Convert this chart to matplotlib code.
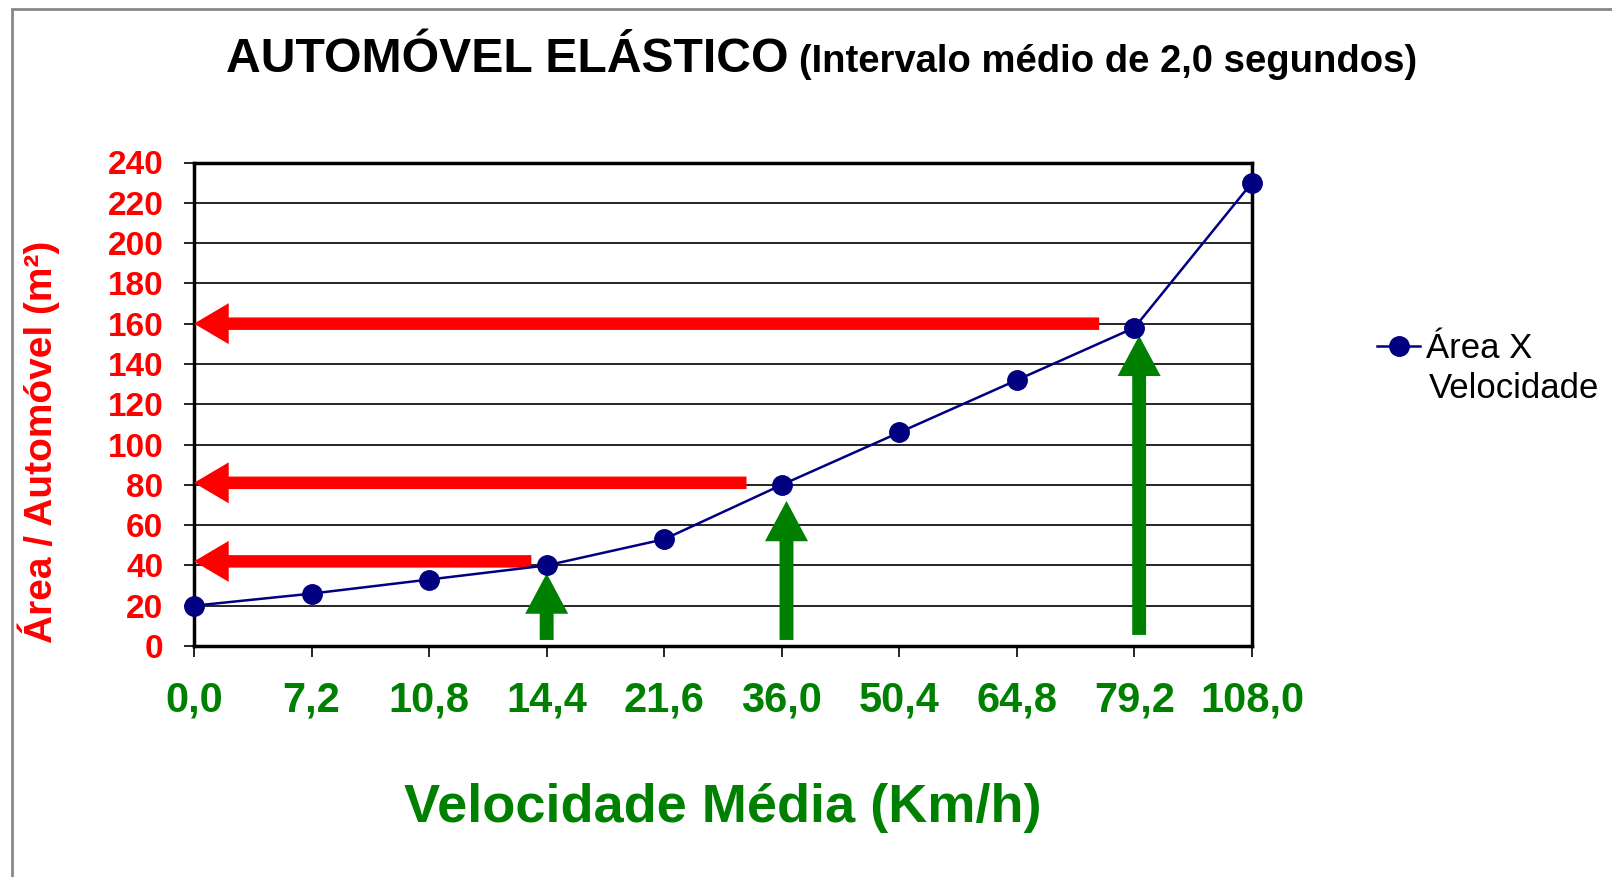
import matplotlib
matplotlib.use('Agg')
import matplotlib.pyplot as plt
from matplotlib.patches import Rectangle

plt.rcParams['font.family'] = ['Liberation Sans', 'DejaVu Sans']

# dados do gráfico
velocidades = ['0,0', '7,2', '10,8', '14,4', '21,6', '36,0', '50,4', '64,8', '79,2', '108,0']
areas = [20, 26, 33, 40, 53, 80, 106, 132, 158, 230]

# setas vermelhas (horizontais): altura e onde a cauda termina (indice da categoria)
setas_verm_y = [160, 81, 42]
setas_verm_cauda = [7.7, 4.7, 2.87]

# setas verdes (verticais): categoria, base e ponta
setas_verdes_x = [3, 5.04, 8.04]
setas_verdes_base = [3, 3, 5.5]
setas_verdes_ponta = [36, 72, 154]

VERMELHO = '#ff0000'
VERDE = '#008000'
AZUL = '#000080'

fig = plt.figure(figsize=(16.12, 8.77), dpi=100)
ax = fig.add_axes([194/1612, 1 - 646/877, (1252-194)/1612, (646-162.5)/877])

x = list(range(len(velocidades)))
ax.plot(x, areas, color=AZUL, lw=1.8, marker='o', ms=14, label='Área X', clip_on=False, zorder=5)

ax.set_xlim(0, len(velocidades) - 1)
ax.set_ylim(0, 240)
ax.set_yticks(range(0, 241, 20))
ax.set_xticks(x)
ax.set_xticklabels(velocidades)
ax.yaxis.grid(True, color='black', lw=1.2)
ax.set_axisbelow(True)
for s in ax.spines.values():
    s.set_linewidth(2.5)
    s.set_color('black')

ax.tick_params(axis='y', direction='out', length=7, width=1.2, pad=15,
               labelsize=24, labelcolor=VERMELHO)
ax.tick_params(axis='x', direction='out', length=8, width=1.2, pad=17,
               labelsize=30, labelcolor=VERDE)
for lab in ax.get_xticklabels() + ax.get_yticklabels():
    lab.set_fontweight('bold')

# setas vermelhas
for y, xc in zip(setas_verm_y, setas_verm_cauda):
    ax.annotate('', xy=(0, y), xytext=(xc, y), annotation_clip=False,
                arrowprops=dict(arrowstyle='simple,head_length=25,head_width=29.5,tail_width=9',
                                mutation_scale=1, color=VERMELHO, lw=0,
                                shrinkA=0, shrinkB=0), zorder=4)

# setas verdes
for xv, b, p in zip(setas_verdes_x, setas_verdes_base, setas_verdes_ponta):
    ax.annotate('', xy=(xv, p), xytext=(xv, b), annotation_clip=False,
                arrowprops=dict(arrowstyle='simple,head_length=29,head_width=31,tail_width=10',
                                mutation_scale=1, color=VERDE, lw=0,
                                shrinkA=0, shrinkB=0), zorder=4)

ax.set_xlabel('Velocidade Média (Km/h)', fontsize=39, fontweight='bold', color=VERDE, labelpad=45)
fig.text(39/1612, 1 - 442/877, 'Área / Automóvel (m²)', rotation=90, ha='center', va='center',
         fontsize=28, fontweight='bold', color=VERMELHO)

# título
fig.text(226/1612, 1 - 72/877, 'AUTOMÓVEL ELÁSTICO', fontsize=34.7, fontweight='bold', va='baseline')
fig.text(799/1612, 1 - 72/877, '(Intervalo médio de 2,0 segundos)', fontsize=27.5, fontweight='bold',
         va='baseline')

# legenda
ax.legend(loc='center left', bbox_to_anchor=(1377/1612, 1 - 349/877), bbox_transform=fig.transFigure,
          frameon=False, fontsize=25, handlelength=1.25, handletextpad=0.15, borderpad=0, borderaxespad=0)
fig.text(1429/1612, 1 - 389/877, 'Velocidade', fontsize=25, va='center')

# moldura do gráfico
fig.patches.append(Rectangle((12/1612, -0.1), 2, 1.1 - 9/877, transform=fig.transFigure,
                             fill=False, edgecolor='#888888', lw=2))

fig.savefig('out.png', dpi=100)
